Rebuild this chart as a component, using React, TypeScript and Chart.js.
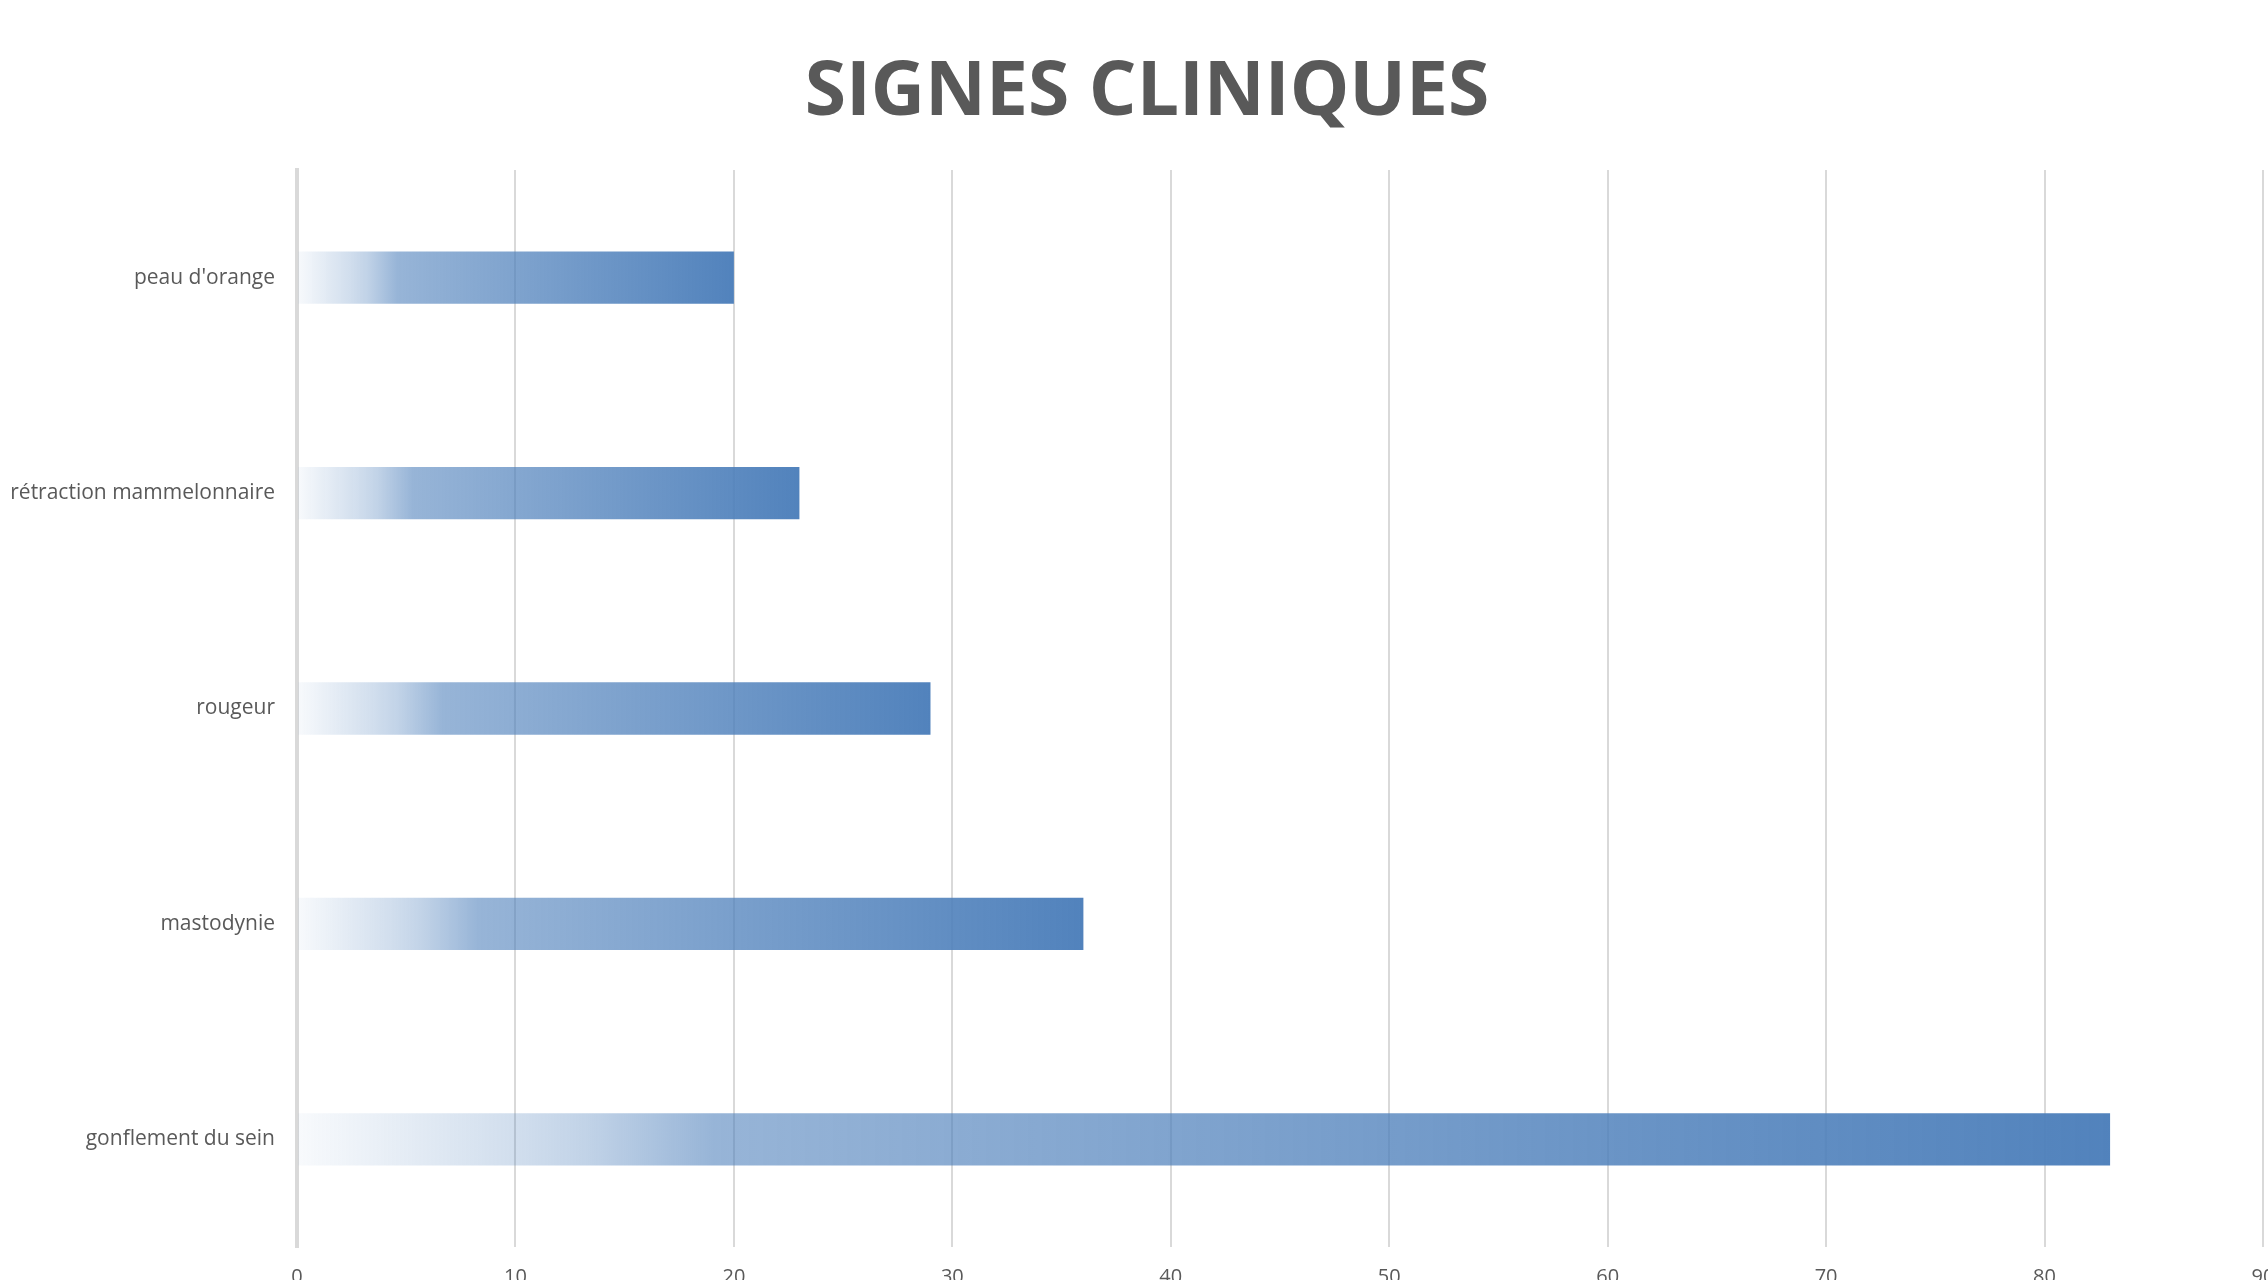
import React, { useEffect, useRef } from "react";
import { Chart, registerables } from "chart.js";

Chart.register(...registerables);

const TITLE = "SIGNES CLINIQUES";
const categories = [
  "peau d'orange",
  "rétraction mammelonnaire",
  "rougeur",
  "mastodynie",
  "gonflement du sein",
];
const values = [20, 23, 29, 36, 83];
const axisMin = 0;
const axisMax = 90;
const axisStep = 10;

const W = 2268;
const H = 1314;

function barGradient(context: any) {
  const chart = context.chart;
  const x = chart.scales?.x;
  if (!x || context.raw == null) return "rgba(78,128,187,0.9)";
  const x0 = x.getPixelForValue(0);
  const x1 = x.getPixelForValue(context.raw);
  if (!isFinite(x0) || !isFinite(x1) || x1 - x0 < 1) return "rgba(78,128,187,0.9)";
  const g = chart.ctx.createLinearGradient(x0, 0, x1, 0);
  g.addColorStop(0, "rgba(78,128,187,0.04)");
  g.addColorStop(0.12, "rgba(78,128,187,0.26)");
  g.addColorStop(0.16, "rgba(78,128,187,0.35)");
  g.addColorStop(0.23, "rgba(78,128,187,0.59)");
  g.addColorStop(1, "rgba(78,128,187,0.98)");
  return g;
}

const titlePlugin = {
  id: "excelTitle",
  afterDraw(chart: any) {
    const c = chart.ctx;
    c.save();
    c.font = "bold 75px 'Open Sans'";
    c.fillStyle = "#595959";
    c.textAlign = "center";
    c.textBaseline = "alphabetic";
    c.fillText(TITLE, 1147, 115);
    c.restore();
  },
};

export default function App() {
  const ref = useRef<HTMLCanvasElement>(null);

  useEffect(() => {
    document.body.style.margin = "0";
    document.body.style.overflow = "hidden";
    const canvas = ref.current;
    if (!canvas) return;
    const chart = new Chart(canvas, {
      type: "bar",
      data: {
        labels: categories,
        datasets: [
          {
            data: values,
            backgroundColor: barGradient,
            borderWidth: 0,
            categoryPercentage: 1,
            barPercentage: 0.243,
          },
        ],
      },
      plugins: [titlePlugin],
      options: {
        indexAxis: "y",
        animation: false,
        responsive: false,
        devicePixelRatio: 1,
        layout: { padding: { top: 170, right: 5, bottom: 7, left: 0 } },
        plugins: {
          legend: { display: false },
          tooltip: { enabled: false },
          title: { display: false },
        },
        scales: {
          x: {
            type: "linear",
            min: axisMin,
            max: axisMax,
            ticks: {
              stepSize: axisStep,
              color: "#595959",
              font: { family: "'Open Sans'", size: 20, lineHeight: 1.2 },
              padding: 18,
              maxRotation: 0,
            },
            grid: { color: "#d9d9d9", lineWidth: 2, drawTicks: false },
            border: { display: false },
            afterFit: (scale: any) => {
              scale.paddingRight = 0;
              scale.paddingLeft = 0;
            },
          },
          y: {
            ticks: {
              color: "#595959",
              font: { family: "'Open Sans'", size: 21, lineHeight: 1.2 },
              padding: 22,
            },
            grid: { display: false, drawTicks: false },
            border: { display: true, color: "#d9d9d9", width: 4 },
            afterFit: (scale: any) => {
              scale.width = 297;
            },
          },
        },
      },
    });
    return () => chart.destroy();
  }, []);

  return (
    <div style={{ width: W, height: 1280, overflow: "hidden", position: "relative", background: "#fff" }}>
      <canvas ref={ref} width={W} height={H} style={{ width: W, height: H, display: "block" }} />
    </div>
  );
}
